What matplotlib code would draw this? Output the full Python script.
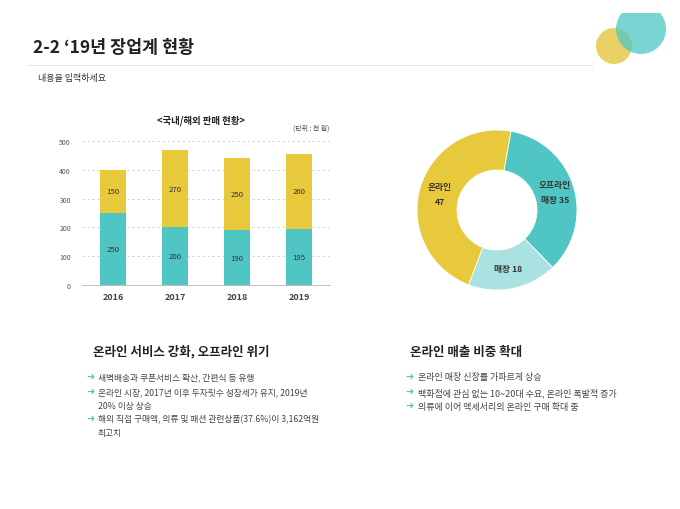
import matplotlib
matplotlib.use('Agg')
import matplotlib.pyplot as plt
from matplotlib.patches import Circle, Rectangle
import numpy as np

plt.rcParams['font.family'] = ['Noto Sans CJK KR', 'DejaVu Sans']

# bar chart data
years = ['2016', '2017', '2018', '2019']
domestic = [250, 200, 190, 195]
overseas = [150, 270, 250, 260]

# donut data
share_labels = ['오프라인\n매장 35', '매장 18', '온라인\n47']
share_values = [35, 18, 47]

left_items = ['새벽배송과 쿠폰서비스 확산, 간편식 등 유행',
              '온라인 시장, 2017년 이후 두자릿수 성장세가 유지, 2019년\n20% 이상 상승',
              '해외 직접 구매액, 의류 및 패션 관련상품(37.6%)이 3,162억원\n최고치']
right_items = ['온라인 매장 신장률 가파르게 상승',
               '백화점에 관심 없는 10~20대 수요, 온라인 폭발적 증가',
               '의류에 이어 액세서리의 온라인 구매 확대 중']

TEAL = '#4fc6c4'
YELLOW = '#e8c93b'
LIGHT = '#a9e2e0'
W, H = 680, 510

fig = plt.figure(figsize=(6.8, 5.1), dpi=100)

# bar chart
ax = fig.add_axes([82 / W, 1 - 286 / H, 248 / W, 144 / H])
x = np.arange(len(years))
ax.bar(x, domestic, width=0.41, color=TEAL, zorder=3)
ax.bar(x, overseas, width=0.41, bottom=domestic, color=YELLOW, zorder=3)
for i in range(len(years)):
    ax.text(x[i], domestic[i] / 2, str(domestic[i]), ha='center', va='center',
            fontsize=5.6, color='#333333', zorder=4)
    ax.text(x[i], domestic[i] + overseas[i] / 2, str(overseas[i]), ha='center',
            va='center', fontsize=5.6, color='#333333', zorder=4)
ax.set_xlim(-0.5, 3.5)
ax.set_ylim(0, 500)
ax.set_yticks(range(0, 501, 100))
ax.set_xticks(x)
ax.set_xticklabels(years, fontsize=6.5, fontweight='bold', color='#444444')
ax.tick_params(axis='y', labelsize=5, colors='#555555', length=0, pad=8)
ax.tick_params(axis='x', length=0, pad=5)
ax.yaxis.grid(True, ls=(0, (3, 3)), color='#d0d0d0', lw=0.6)
for s in ['top', 'right', 'left']:
    ax.spines[s].set_visible(False)
ax.spines['bottom'].set_color('#bfbfbf')
ax.spines['bottom'].set_linewidth(0.7)

# donut
ax2 = fig.add_axes([417 / W, 1 - 291 / H, 160 / W, 160 / H])
ax2.pie(share_values, colors=[TEAL, LIGHT, YELLOW], startangle=80, counterclock=False,
        radius=1, wedgeprops=dict(width=0.5, edgecolor='white', linewidth=0.6))
ax2.set_xlim(-1, 1)
ax2.set_ylim(-1, 1)
ax2.set_aspect('equal')

# overlay in pixel coords for text + decorations
ov = fig.add_axes([0, 0, 1, 1])
ov.set_zorder(10)
ov.patch.set_alpha(0)
ov.set_xlim(0, W)
ov.set_ylim(H, 0)
ov.axis('off')

ov.text(33, 48, "2-2 \u201819년 장업계 현황", fontsize=12.5, fontweight='bold',
        va='center', ha='left', color='#222222')
ov.plot([28, 592], [66, 66], color='#dfe3ea', lw=0.8)
ov.text(38, 79, '내용을 입력하세요', fontsize=6.5, va='center', color='#333333')

clip = Rectangle((560, 14), 120, 80, transform=ov.transData)
c1 = Circle((614, 47), 18, color='#e8c94a', alpha=0.85, lw=0)
c2 = Circle((641, 30), 25, color='#4cc7c5', alpha=0.75, lw=0)
for c in (c1, c2):
    ov.add_patch(c)
    c.set_clip_path(clip)

ov.text(201, 121, '<국내/해외 판매 현황>', fontsize=6.8, fontweight='bold',
        ha='center', va='center', color='#222222')
ov.text(329, 129, '(단위 : 천 원)', fontsize=5, ha='right', va='center', color='#444444')

lab_pos = [(555, 193), (508, 270), (440, 195)]
for (px, py), lab in zip(lab_pos, share_labels):
    ov.text(px, py, lab, fontsize=6.3, fontweight='bold', ha='center', va='center',
            color='#333333', linespacing=1.9)

# bottom text blocks
ov.text(93, 352, '온라인 서비스 강화, 오프라인 위기', fontsize=9, fontweight='bold',
        va='center', color='#222222')
ov.text(410, 353, '온라인 매출 비중 확대', fontsize=9, fontweight='bold',
        va='center', color='#222222')

left_y = [378, 393, 420]
for yy, t in zip(left_y, left_items):
    ov.text(86, yy, '\u279c', fontsize=7, color=TEAL, va='center',
            family=['DejaVu Sans'])
    ov.text(98, yy - 5, t, fontsize=6.3, va='top', color='#444444', linespacing=1.75)

right_y = [378, 393, 407]
for yy, t in zip(right_y, right_items):
    ov.text(405, yy, '\u279c', fontsize=7, color=TEAL, va='center',
            family=['DejaVu Sans'])
    ov.text(418, yy, t, fontsize=6.5, va='center', color='#444444')

fig.savefig('out.png', dpi=100, facecolor='white')
